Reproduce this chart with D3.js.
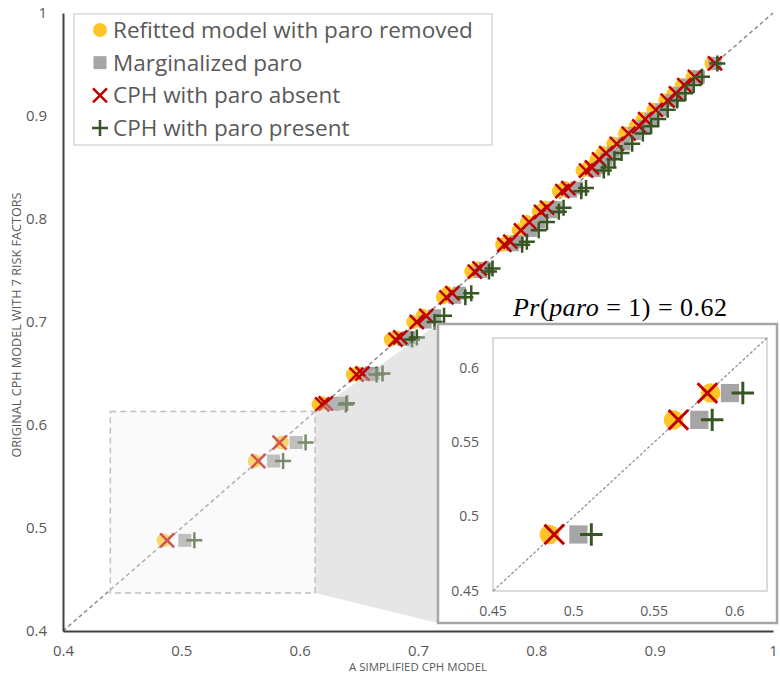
<!DOCTYPE html>
<html>
<head>
<meta charset="utf-8">
<script src="https://cdn.jsdelivr.net/npm/d3@7"></script>
<style>
    body { margin: 0; background: #fff; }
    text { font-family: "Open Sans", "Liberation Sans", sans-serif; fill: #595959; }
</style>
</head>
<body>
<script>
(function(){

    //chart data: one row per risk group, original model on the y axis
    var origRisk    = [0.488, 0.565, 0.583, 0.620, 0.621, 0.649, 0.650, 0.683, 0.685, 0.700, 0.706, 0.724, 0.728, 0.749, 0.752, 0.775, 0.778, 0.789, 0.797, 0.807, 0.811, 0.827, 0.830, 0.847, 0.850, 0.858, 0.864, 0.873, 0.883, 0.890, 0.897, 0.906, 0.915, 0.922, 0.930, 0.938, 0.951];
    var refitRisk   = [0.485, 0.562, 0.585, 0.616, 0.619, 0.645, 0.650, 0.677, 0.682, 0.696, 0.704, 0.721, 0.725, 0.745, 0.750, 0.771, 0.776, 0.785, 0.792, 0.802, 0.807, 0.819, 0.824, 0.839, 0.844, 0.851, 0.856, 0.865, 0.875, 0.884, 0.890, 0.899, 0.909, 0.916, 0.923, 0.932, 0.948];
    var margRisk    = [0.503, 0.578, 0.597, 0.629, 0.632, 0.658, 0.662, 0.688, 0.692, 0.706, 0.714, 0.731, 0.735, 0.753, 0.757, 0.780, 0.784, 0.795, 0.802, 0.812, 0.816, 0.829, 0.834, 0.849, 0.853, 0.859, 0.865, 0.874, 0.883, 0.891, 0.897, 0.906, 0.915, 0.921, 0.928, 0.937, 0.951];
    var absentRisk  = [0.488, 0.565, 0.583, 0.619, 0.622, 0.648, 0.653, 0.681, 0.685, 0.699, 0.707, 0.724, 0.729, 0.748, 0.752, 0.773, 0.778, 0.787, 0.794, 0.804, 0.809, 0.822, 0.827, 0.842, 0.847, 0.853, 0.859, 0.868, 0.878, 0.887, 0.892, 0.901, 0.911, 0.918, 0.925, 0.934, 0.951];
    var presentRisk = [0.511, 0.586, 0.605, 0.639, 0.640, 0.665, 0.670, 0.695, 0.699, 0.714, 0.722, 0.740, 0.745, 0.760, 0.763, 0.788, 0.792, 0.802, 0.809, 0.819, 0.823, 0.838, 0.842, 0.857, 0.861, 0.866, 0.872, 0.881, 0.890, 0.897, 0.903, 0.911, 0.919, 0.926, 0.933, 0.940, 0.953];

    var xTicks = [0.4, 0.5, 0.6, 0.7, 0.8, 0.9, 1];
    var yTicks = [0.4, 0.5, 0.6, 0.7, 0.8, 0.9, 1];
    var insetTicks = [0.45, 0.5, 0.55, 0.6];
    var zoomBox = [0.44, 0.613, 0.437, 0.613]; //x0, x1, y0, y1 of the zoomed region
    var legendLabels = ["Refitted model with paro removed", "Marginalized paro", "CPH with paro absent", "CPH with paro present"];

    var colors = {refit: "#ffc527", marg: "#a5a5a5", absent: "#c00000", present: "#375623"};

    var rows = origRisk.map(function(y, i){
        return {y: y, refit: refitRisk[i], marg: margRisk[i], absent: absentRisk[i], present: presentRisk[i]};
    });

    window.onload = drawChart();

    function drawChart(){
        var width = 780,
            height = 675;

        var svg = d3.select("body")
            .append("svg")
            .attr("width", width)
            .attr("height", height);

        //main scales
        var x = d3.scaleLinear().domain([0.4, 1]).range([63, 773]);
        var y = d3.scaleLinear().domain([0.4, 1]).range([631, 13]);

        //diagonal reference line
        svg.append("line")
            .attr("x1", x(0.4)).attr("y1", y(0.4))
            .attr("x2", x(1)).attr("y2", y(1))
            .style("stroke", "#8c8c8c")
            .style("stroke-width", 1.5)
            .style("stroke-dasharray", "4,3");

        //markers of the main chart
        drawMarkers(svg.append("g"), rows, x, y, 1);

        //dashed box marking the zoomed region
        svg.append("rect")
            .attr("x", x(zoomBox[0]))
            .attr("y", y(zoomBox[3]))
            .attr("width", x(zoomBox[1]) - x(zoomBox[0]))
            .attr("height", y(zoomBox[2]) - y(zoomBox[3]))
            .style("fill", "#f2f2f2")
            .style("fill-opacity", 0.35)
            .style("stroke", "#bfbfbf")
            .style("stroke-width", 1.5)
            .style("stroke-dasharray", "6,4");

        //inset frame geometry
        var inset = {left: 438, top: 324, right: 777, bottom: 623};

        //gray connector from box to inset
        var connector = [
            [x(zoomBox[1]), y(zoomBox[3])],
            [inset.left, inset.top],
            [inset.left, inset.bottom],
            [x(zoomBox[1]), y(zoomBox[2])]
        ];
        svg.append("path")
            .attr("d", "M" + connector.join("L") + "Z")
            .style("fill", "#c8c8c8")
            .style("fill-opacity", 0.45);

        //main axes
        var yAxis = d3.axisLeft(y)
            .tickValues(yTicks)
            .tickSize(0)
            .tickSizeOuter(0)
            .tickPadding(16)
            .tickFormat(function(d){ return String(d); });

        var xAxis = d3.axisBottom(x)
            .tickValues(xTicks)
            .tickSize(0)
            .tickSizeOuter(0)
            .tickPadding(14)
            .tickFormat(function(d){ return String(d); });

        var gy = svg.append("g")
            .attr("class", "axis")
            .attr("transform", "translate(" + x(0.4) + ",0)")
            .call(yAxis);

        var gx = svg.append("g")
            .attr("class", "axis")
            .attr("transform", "translate(0," + y(0.4) + ")")
            .call(xAxis);

        [gx, gy].forEach(function(g){
            g.select(".domain").style("stroke", "#404040").style("stroke-width", 2);
            g.selectAll("text").style("font-size", "15px").style("fill", "#595959")
                .style("font-family", "'Open Sans', sans-serif");
        });

        //axis titles
        svg.append("text")
            .attr("x", 418)
            .attr("y", 671)
            .attr("text-anchor", "middle")
            .attr("textLength", 138)
            .attr("lengthAdjust", "spacingAndGlyphs")
            .style("font-size", "11.5px")
            .text("A SIMPLIFIED CPH MODEL");

        svg.append("text")
            .attr("transform", "translate(21,325) rotate(-90)")
            .attr("text-anchor", "middle")
            .attr("textLength", 265)
            .attr("lengthAdjust", "spacingAndGlyphs")
            .style("font-size", "12px")
            .text("ORIGINAL CPH MODEL WITH 7 RISK FACTORS");

        //legend
        var legend = svg.append("g").attr("class", "legend");
        legend.append("rect")
            .attr("x", 74).attr("y", 14)
            .attr("width", 418).attr("height", 131)
            .style("fill", "#fff")
            .style("stroke", "#d9d9d9")
            .style("stroke-width", 1.5);

        var keys = ["refit", "marg", "absent", "present"];
        var rowY = d3.scalePoint().domain(keys).range([30, 128]);
        keys.forEach(function(k, i){
            drawSymbol(legend, k, 100, rowY(k), 1);
            legend.append("text")
                .attr("x", 113)
                .attr("y", rowY(k))
                .attr("dy", "0.35em")
                .style("font-size", "22.5px")
                .text(legendLabels[i]);
        });

        //inset chart
        drawInset(svg, inset);
    };

    //draw the four marker series for a set of rows
    function drawMarkers(g, data, x, y, s){
        ["refit", "marg", "absent", "present"].forEach(function(k){
            data.forEach(function(d){
                drawSymbol(g, k, x(d[k]), y(d.y), s);
            });
        });
    };

    //one symbol of a series at cx, cy with scale factor s
    function drawSymbol(g, key, cx, cy, s){
        if (key == "refit"){
            g.append("circle")
                .attr("cx", cx).attr("cy", cy)
                .attr("r", 7 * s)
                .style("fill", colors.refit);
        } else if (key == "marg"){
            var h = 6.5 * s;
            g.append("rect")
                .attr("x", cx - h).attr("y", cy - h)
                .attr("width", 2 * h).attr("height", 2 * h)
                .style("fill", colors.marg);
        } else if (key == "absent"){
            var a = 7 * s;
            g.append("path")
                .attr("d", "M" + (cx - a) + "," + (cy - a) + "L" + (cx + a) + "," + (cy + a) +
                           "M" + (cx - a) + "," + (cy + a) + "L" + (cx + a) + "," + (cy - a))
                .style("stroke", colors.absent)
                .style("stroke-width", 2.5 * Math.sqrt(s))
                .style("fill", "none");
        } else {
            var p = 8 * s;
            g.append("path")
                .attr("d", "M" + (cx - p) + "," + cy + "L" + (cx + p) + "," + cy +
                           "M" + cx + "," + (cy - p) + "L" + cx + "," + (cy + p))
                .style("stroke", colors.present)
                .style("stroke-width", 2.5 * Math.sqrt(s))
                .style("fill", "none");
        }
    };

    function drawInset(svg, inset){
        var g = svg.append("g").attr("class", "inset");

        //outer frame
        g.append("rect")
            .attr("x", inset.left).attr("y", inset.top)
            .attr("width", inset.right - inset.left)
            .attr("height", inset.bottom - inset.top)
            .style("fill", "#fff")
            .style("stroke", "#a6a6a6")
            .style("stroke-width", 2.5);

        var ix = d3.scaleLinear().domain([0.45, 0.62]).range([493, 767]);
        var iy = d3.scaleLinear().domain([0.45, 0.62]).range([591, 338]);

        //plot area border
        g.append("rect")
            .attr("x", ix(0.45)).attr("y", iy(0.62))
            .attr("width", ix(0.62) - ix(0.45))
            .attr("height", iy(0.45) - iy(0.62))
            .style("fill", "none")
            .style("stroke", "#d0d0d0")
            .style("stroke-width", 1.5);

        //diagonal
        g.append("line")
            .attr("x1", ix(0.45)).attr("y1", iy(0.45))
            .attr("x2", ix(0.62)).attr("y2", iy(0.62))
            .style("stroke", "#8c8c8c")
            .style("stroke-width", 1.2)
            .style("stroke-dasharray", "3,2");

        var inRows = rows.filter(function(d){ return d.y < 0.6 && d.present < 0.61; });
        drawMarkers(g, inRows, ix, iy, 1.4);

        //inset tick labels
        g.selectAll(".ixlab")
            .data(insetTicks)
            .enter()
            .append("text")
            .attr("x", function(d){ return ix(d); })
            .attr("y", iy(0.45) + 25)
            .attr("text-anchor", "middle")
            .style("font-size", "14px")
            .text(function(d){ return String(d); });

        g.selectAll(".iylab")
            .data(insetTicks)
            .enter()
            .append("text")
            .attr("x", ix(0.45) - 14)
            .attr("y", function(d){ return iy(d); })
            .attr("dy", "0.35em")
            .attr("text-anchor", "end")
            .style("font-size", "14px")
            .text(function(d){ return String(d); });

        //inset title
        var title = svg.append("text")
            .attr("x", 620)
            .attr("y", 316)
            .attr("text-anchor", "middle")
            .attr("textLength", 214)
            .attr("lengthAdjust", "spacing")
            .style("font-family", "'Liberation Serif', 'DejaVu Serif', serif")
            .style("font-size", "26px")
            .style("fill", "#000");
        title.append("tspan").style("font-style", "italic").text("Pr");
        title.append("tspan").text("(");
        title.append("tspan").style("font-style", "italic").text("paro");
        title.append("tspan").text(" = 1) = 0.62");
    };

})();
</script>
</body>
</html>
